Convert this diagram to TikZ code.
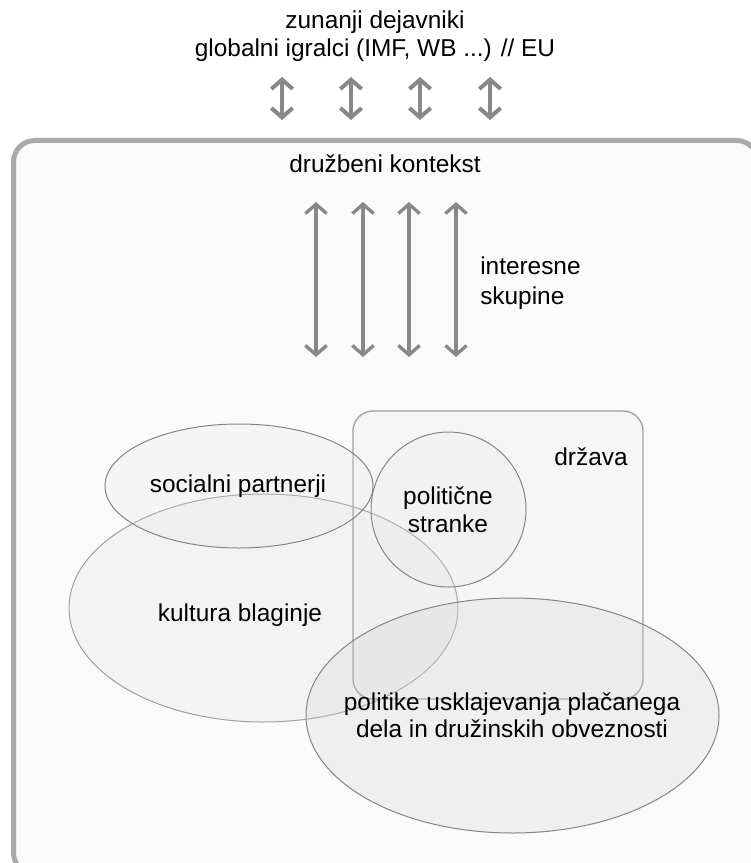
\documentclass[tikz,border=0pt]{standalone}
\usepackage{fontspec}
\setmainfont{Liberation Sans}
\usetikzlibrary{arrows.meta,shapes.geometric}
\definecolor{arr}{HTML}{888888}
\definecolor{frame}{HTML}{AAAAAA}
\definecolor{bg}{HTML}{FAFAFA}
\definecolor{edge}{HTML}{858585}
\definecolor{edgelt}{HTML}{A0A0A0}
\definecolor{fillA}{HTML}{E0E0E0}
\definecolor{fillB}{HTML}{D0D0D0}
\begin{document}
\begin{tikzpicture}[x=0.75pt,y=-0.75pt,
  lbl/.style={font=\fontsize{18.3}{21}\selectfont, align=center, inner sep=0pt, text=black},
  toparrow/.style={draw=arr, line width=3pt, {Straight Barb[length=7pt,width=16pt]}-{Straight Barb[length=7pt,width=16pt]}},
  longarrow/.style={draw=arr, line width=2.5pt, {Straight Barb[length=7pt,width=16pt]}-{Straight Barb[length=7pt,width=16pt]}},
  blob/.style={draw=edge, line width=0.75pt, fill=fillA, fill opacity=0.25, inner sep=0pt},
]
\useasboundingbox (0,0) rectangle (750,863);
\fill[white] (0,0) rectangle (750,863);
% outer frame
\draw[line width=3.75pt, draw=frame, fill=bg, rounded corners=16pt] (13.5,140.5) rectangle (758,874);

% shapes
\node[blob, draw=edgelt, ellipse, minimum width=291.75pt, minimum height=171pt] (kb) at (263.5,608) {};
\node[blob, draw=edgelt, line width=1pt, rectangle, rounded corners=15pt, fill opacity=0.12, minimum width=217.5pt, minimum height=216pt] (dr) at (498,555) {};
\node[blob, circle, minimum size=116.25pt, fill opacity=0.15] (ps) at (448.5,509.5) {};
\node[blob, ellipse, fill opacity=0.18, minimum width=201pt, minimum height=93pt] (sp) at (239,486) {};
\node[blob, ellipse, fill=fillB, fill opacity=0.25, minimum width=309.75pt, minimum height=176.25pt] (pu) at (512.5,715.5) {};

% arrows
\foreach \i/\x in {1/282,2/351,3/420,4/490}{
  \coordinate (ta\i) at (\x,77);
  \coordinate (tb\i) at (\x,120);
  \draw[toparrow] (ta\i) -- (tb\i);
}
\foreach \i/\x in {1/316,2/363,3/409,4/456}{
  \coordinate (la\i) at (\x,202);
  \coordinate (lb\i) at (\x,357);
  \draw[longarrow] (la\i) -- (lb\i);
}

% texts
\node[lbl] (tz) at (375,36) {zunanji dejavniki\\globalni igralci (IMF, WB ...) // EU};
\node[lbl] (tk) at (385,164) {družbeni kontekst};
\node[lbl, anchor=west, align=left, font=\fontsize{18.3}{22.5}\selectfont] (ti) at (480,283) {interesne\\skupine};
\node[lbl] (td) at (591,457) {država};
\node[lbl] (tps) at (448,510) {politične\\stranke};
\node[lbl] (tsp) at (238,486) {socialni partnerji};
\node[lbl] (tkb) at (240,615) {kultura blaginje};
\node[lbl, font=\fontsize{18.3}{20.25}\selectfont] (tpu) at (512,715) {politike usklajevanja plačanega\\dela in družinskih obveznosti};
\end{tikzpicture}
\end{document}
